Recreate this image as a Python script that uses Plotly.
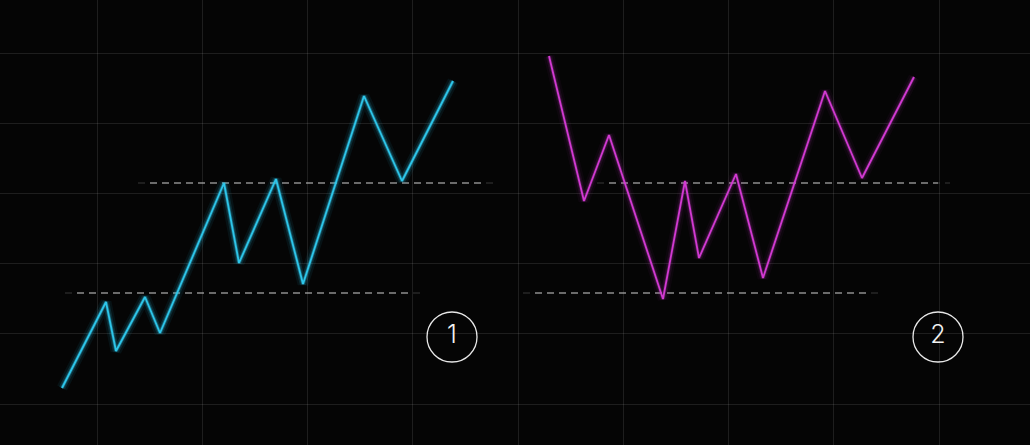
import plotly.graph_objects as go

# ---- data (y = price level, higher = up) ----
pattern1_x = [62, 106, 116, 145, 160, 224, 239, 276, 303, 364, 402, 453]
pattern1_y = [57, 143, 94, 148, 112, 262, 182, 266, 161, 349, 264, 364]

pattern2_x = [549, 584, 609, 663, 685, 699, 736, 763, 825, 862, 914]
pattern2_y = [389, 244, 310, 146, 264, 187, 271, 167, 354, 267, 368]

# horizontal dashed levels: (x_start, x_end, level)
levels1 = [(150, 482, 262), (77, 408, 152)]
levels2 = [(609, 938, 262), (535, 868, 152)]

labels = ["1", "2"]
label_x = [452, 938]
label_y = [108, 108]

W, H = 1030, 445
CYAN = "#2ec6ea"
MAGENTA = "#d23ad2"

fig = go.Figure()


def glow_line(xs, ys, color, glow_strength):
    r = int(color[1:3], 16); g = int(color[3:5], 16); b = int(color[5:7], 16)
    for w, a in [(11, 0.05 * glow_strength), (6.5, 0.10 * glow_strength), (3.5, 0.24 * glow_strength)]:
        fig.add_trace(go.Scatter(x=xs, y=ys, mode="lines",
                                 line=dict(color=f"rgba({r},{g},{b},{a})", width=w),
                                 hoverinfo="skip", showlegend=False))
    fig.add_trace(go.Scatter(x=xs, y=ys, mode="lines",
                             line=dict(color=color, width=1.8),
                             hoverinfo="skip", showlegend=False))


def dashed_level(x0, x1, yv):
    # faded ends
    fig.add_trace(go.Scatter(x=[x0 - 12, x1 + 12], y=[yv, yv], mode="lines",
                             line=dict(color="rgba(150,150,150,0.35)", width=1.2, dash="7px,5px"),
                             hoverinfo="skip", showlegend=False))
    fig.add_trace(go.Scatter(x=[x0, x1], y=[yv, yv], mode="lines",
                             line=dict(color="rgba(210,210,210,0.85)", width=1.2, dash="7px,5px"),
                             hoverinfo="skip", showlegend=False))


for x0, x1, yv in levels1 + levels2:
    dashed_level(x0, x1, yv)

glow_line(pattern1_x, pattern1_y, CYAN, 1.4)
glow_line(pattern2_x, pattern2_y, MAGENTA, 0.9)

# numbered circles
fig.add_trace(go.Scatter(x=label_x, y=label_y, mode="markers+text",
                         marker=dict(symbol="circle", size=50, color="rgba(0,0,0,0)",
                                     line=dict(color="#e8e8e8", width=1.3)),
                         text=labels, textposition="middle center",
                         textfont=dict(family="Inter", size=25, color="#f2f2f2", weight=300),
                         hoverinfo="skip", showlegend=False))

fig.update_layout(
    width=W, height=H,
    margin=dict(l=0, r=0, t=0, b=0),
    paper_bgcolor="#050505",
    plot_bgcolor="#050505",
    showlegend=False,
    xaxis=dict(range=[0, W], showgrid=True, gridcolor="rgba(255,255,255,0.10)", gridwidth=1,
               tick0=97, dtick=105.25, showticklabels=False, zeroline=False,
               showline=False, fixedrange=True),
    yaxis=dict(range=[0, H], showgrid=True, gridcolor="rgba(255,255,255,0.10)", gridwidth=1,
               tick0=41, dtick=70.1, showticklabels=False, zeroline=False,
               showline=False, fixedrange=True),
)

fig.write_html("out.html", config={"displayModeBar": False},
               post_script="document.body.style.margin='0';document.body.style.background='#050505';document.documentElement.style.overflow='hidden';")
